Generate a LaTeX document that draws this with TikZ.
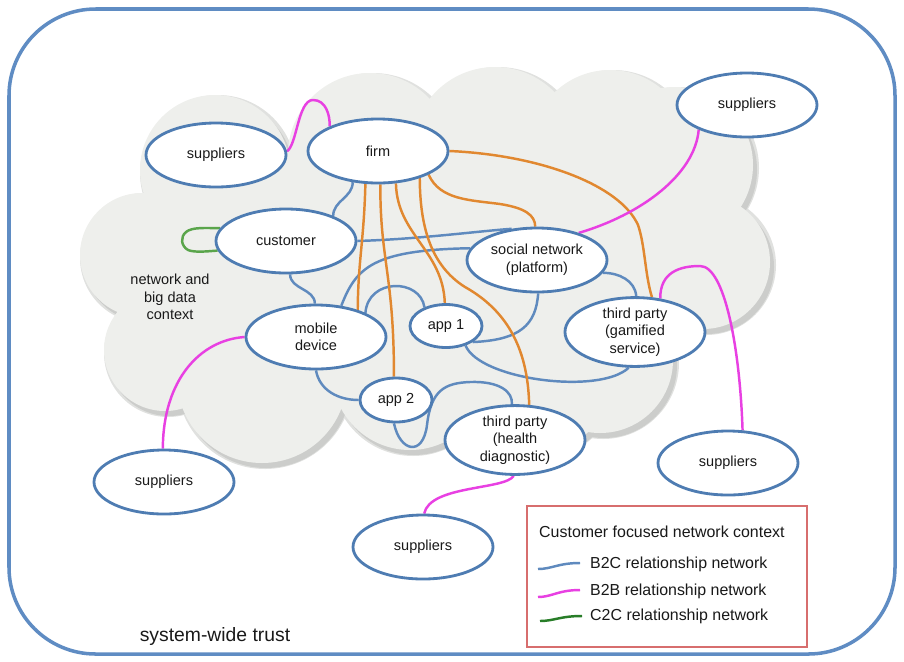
\documentclass[tikz,border=0pt]{standalone}
\usepackage{fontspec}
\setmainfont{Liberation Sans}
\usetikzlibrary{shapes.geometric}

\definecolor{nodeblue}{RGB}{78,124,178}
\definecolor{linkblue}{RGB}{95,138,190}
\definecolor{orangeL}{RGB}{225,136,48}
\definecolor{magL}{RGB}{232,64,226}
\definecolor{greenL}{RGB}{90,165,75}
\definecolor{greenLeg}{RGB}{40,125,40}
\definecolor{frameblue}{RGB}{95,140,195}
\definecolor{legred}{RGB}{215,110,110}
\definecolor{cloudfill}{RGB}{238,239,236}
\definecolor{cloudshade}{RGB}{204,205,203}
\definecolor{cloudhalo}{RGB}{224,225,223}
\definecolor{textc}{RGB}{25,25,25}

\pgfdeclarelayer{back}
\pgfdeclarelayer{mid}
\pgfsetlayers{back,mid,main}

\tikzset{
  ent/.style={ellipse, draw=nodeblue, line width=2.4pt, fill=white, inner sep=0pt,
    align=center, text=textc, font=\fontsize{12.4pt}{15pt}\selectfont,
    minimum width=4.2cm, minimum height=1.92cm},
  appnode/.style={ent, minimum width=2.16cm, minimum height=1.29cm},
  b2c/.style={draw=linkblue, line width=2.1pt},
  b2b/.style={draw=magL, line width=2.1pt},
  c2c/.style={draw=greenL, line width=2.1pt},
  firmlink/.style={draw=orangeL, line width=2.1pt},
  plain/.style={text=textc, inner sep=0pt, align=center},
}

\begin{document}
\begin{tikzpicture}[x=0.03cm,y=-0.03cm]
\useasboundingbox (0,0) rectangle (904,661);

% ---- entities ----
\node[ent] (sup1) at (216,155) {suppliers};
\node[ent] (firm) at (378,151) {firm};
\node[ent] (customer) at (286,241) {customer};
\node[ent] (social) at (537,260) {social network\\(platform)};
\node[ent] (gamified) at (635,332) {third party\\(gamified\\service)};
\node[appnode] (app1) at (446,326) {app 1};
\node[ent] (mobile) at (316,337) {mobile\\device};
\node[appnode, minimum height=1.32cm] (app2) at (396,400) {app 2};
\node[ent] (health) at (515,440) {third party\\(health\\diagnostic)};
\node[ent] (supTR) at (747,105) {suppliers};
\node[ent] (supBL) at (164,482) {suppliers};
\node[ent] (supBC) at (423,547) {suppliers};
\node[ent] (supBR) at (728,463) {suppliers};

\node[plain, font=\fontsize{12.4pt}{15pt}\selectfont] (ctx) at (170,297) {network and\\big data\\context};
\node[plain, font=\fontsize{16.5pt}{19pt}\selectfont] (trust) at (215,636) {system-wide trust};

% ---- frame and cloud ----
\begin{pgfonlayer}{back}
  \draw[frameblue, line width=3pt, rounded corners=2.6cm] (9,9) rectangle (895,654);
  \def\lobes{142/255/62, 165/350/61, 262/378/85, 410/372/78, 530/370/85,
    600/360/73, 703/262/67, 675/165/78, 610/150/80, 495/150/83, 370/155/82, 215/170/75}
  \foreach \cx/\cy/\r in \lobes {\fill[cloudhalo] (\cx+3,\cy+3) circle[radius=\r+3];}
  \foreach \cx/\cy/\r in \lobes {\fill[cloudshade] (\cx+4,\cy+5) circle[radius=\r];}
  \fill[cloudshade] (434,275) ellipse[x radius=260, y radius=140];
  \foreach \cx/\cy/\r in \lobes {\fill[cloudfill] (\cx,\cy) circle[radius=\r];}
  \fill[cloudfill] (430,270) ellipse[x radius=260, y radius=140];
\end{pgfonlayer}

% ---- relationship links ----
\begin{pgfonlayer}{mid}
  % B2C
  \draw[b2c] (firm.-129) to[out=-90,in=90] (customer.28);
  \draw[b2c] (customer.east) .. controls (420,239) and (470,232) .. (social.129);
  \draw[b2c] (mobile.51) .. controls (356,268) and (372,250) .. (social.170);
  \draw[b2c] (customer.-83) to[out=-90,in=90] (mobile.92);
  \draw[b2c] (mobile.26) .. controls (368,278) and (420,278) .. (app1.139);
  \draw[b2c] (social.-88) .. controls (536,325) and (520,340) .. (app1.-31);
  \draw[b2c] (app1.-45) .. controls (480,380) and (600,395) .. (gamified.-100);
  \draw[b2c] (social.-11) to[out=0,in=95] (gamified.88);
  \draw[b2c] (mobile.-90) to[out=-80,in=180] (app2.west);
  \draw[b2c] (app2.-95) .. controls (400,452) and (423,457) .. (427,425)
     .. controls (431,390) and (445,383) .. (470,382)
     .. controls (500,381) and (513,392) .. (health.95);
  % firm-driven links
  \draw[firmlink] (firm.-111) .. controls (364,240) and (358,262) .. (mobile.33);
  \draw[firmlink] (firm.-86) .. controls (380,260) and (394,275) .. (app2.95);
  \draw[firmlink] (firm.-61) .. controls (397,235) and (443,250) .. (app1.93);
  \draw[firmlink] (firm.-33) .. controls (420,225) and (430,265) .. (465,287)
     .. controls (515,315) and (528,360) .. (health.68);
  \draw[firmlink] (firm.-25) .. controls (440,200) and (470,200) .. (500,204)
     .. controls (525,208) and (535,215) .. (social.93);
  \draw[firmlink] (firm.east) .. controls (540,155) and (620,185) .. (638,225)
     .. controls (645,245) and (645,275) .. (gamified.64);
  % B2B
  \draw[b2b] (sup1.3) .. controls (297,145) and (298,100) .. (313,100)
     .. controls (326,100) and (330,115) .. (firm.153);
  \draw[b2b] (supTR.-153) .. controls (695,175) and (640,215) .. (social.33);
  \draw[b2b] (gamified.53) .. controls (660,272) and (680,266) .. (700,266)
     .. controls (725,266) and (740,350) .. (supBR.66);
  \draw[b2b] (mobile.west) .. controls (200,340) and (163,380) .. (supBL.92);
  \draw[b2b] (health.-92) .. controls (505,490) and (430,485) .. (supBC.88);
  % C2C
  \draw[c2c] (customer.169) .. controls (205,228) and (192,227) .. (186,232)
     .. controls (180,237) and (181,246) .. (188,250)
     .. controls (195,253) and (210,251) .. (customer.-172);
\end{pgfonlayer}

% ---- legend ----
\node[draw=legred, line width=1.2pt, fill=white, minimum width=8.4cm, minimum height=4.23cm,
      inner sep=0pt] (legend) at (667,576.5) {};
\node[plain, anchor=west, font=\fontsize{13.6pt}{16pt}\selectfont] (legtitle) at (539,532) {Customer focused network context};
\node[plain, anchor=west, font=\fontsize{13.6pt}{16pt}\selectfont] (legB2C) at (590,564) {B2C relationship network};
\node[plain, anchor=west, font=\fontsize{13.6pt}{16pt}\selectfont] (legB2B) at (590,591) {B2B relationship network};
\node[plain, anchor=west, font=\fontsize{13.6pt}{16pt}\selectfont] (legC2C) at (590,616) {C2C relationship network};
\coordinate (sw1a) at (538,569); \coordinate (sw1b) at (580,563);
\coordinate (sw2a) at (538,597); \coordinate (sw2b) at (580,590);
\coordinate (sw3a) at (540,621); \coordinate (sw3b) at (582,616);
\draw[b2c] (sw1a) .. controls (552,569) and (558,563) .. (sw1b);
\draw[b2b] (sw2a) .. controls (552,597) and (558,590) .. (sw2b);
\draw[draw=greenLeg, line width=2.1pt] (sw3a) .. controls (554,621) and (560,616) .. (sw3b);
\end{tikzpicture}
\end{document}
